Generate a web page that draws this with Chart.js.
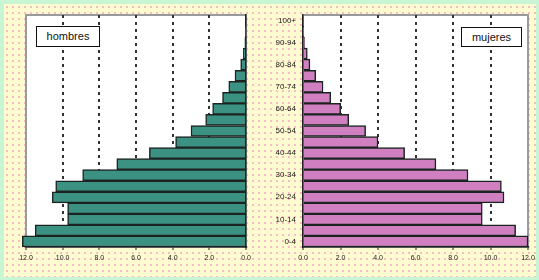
<!DOCTYPE html>
<html><head><meta charset="utf-8">
<script src="https://cdn.jsdelivr.net/npm/chart.js@4/dist/chart.umd.min.js"></script>
<style>
html,body{margin:0;padding:0;}
body{width:539px;height:280px;background:#c8f5d4;position:relative;overflow:hidden;font-family:'Liberation Sans',Arial,sans-serif;}
#panel{position:absolute;left:4px;top:4px;width:532px;height:273px;background-color:#fffbd0;background-image:radial-gradient(circle, rgba(236,150,190,0.6) 0.8px, rgba(255,251,208,0) 1.3px);background-size:6px 6px;}
canvas{position:absolute;top:0;}
#cL{left:0}
#cR{left:270px}
.leg{position:absolute;border:1px solid #111;background:#fff;font-size:11px;color:#111;text-align:center;box-sizing:border-box;}
</style></head>
<body>
<div id="panel"></div>
<canvas id="cL" width="270" height="280"></canvas>
<canvas id="cR" width="269" height="280"></canvas>
<div class="leg" style="left:36px;top:26px;width:64px;height:21px;line-height:19px;">hombres</div>
<div class="leg" style="left:461px;top:27px;width:61px;height:20px;line-height:18px;">mujeres</div>
<script>
const ageGroups = ['0-4','5-9','10-14','15-19','20-24','25-29','30-34','35-39','40-44','45-49','50-54','55-59','60-64','65-69','70-74','75-79','80-84','85-89','90-94','95-99','100+'];
const hombres = [12.2,11.5,9.73,9.73,10.57,10.38,8.91,7.05,5.27,3.84,3.0,2.2,1.82,1.28,0.94,0.6,0.29,0.15,0.06,0.03,0];
const mujeres = [12.0,11.34,9.56,9.56,10.72,10.58,8.8,7.09,5.42,4.0,3.34,2.44,2.01,1.48,1.07,0.68,0.37,0.23,0.08,0.02,0];
const axisMin = 0, axisMax = 12, axisStep = 2;

const plotFrame = {
  id: 'plotFrame',
  beforeDraw(chart) {
    const {ctx, chartArea: a} = chart;
    ctx.save();
    ctx.fillStyle = '#ffffff';
    ctx.fillRect(a.left, a.top, a.right - a.left, a.bottom - a.top);
    ctx.strokeStyle = '#9a9a9a';
    ctx.lineWidth = 2;
    ctx.strokeRect(a.left, a.top, a.right - a.left, a.bottom - a.top);
    ctx.restore();
  }
};

const tickFont = {family: "'Liberation Sans', Arial, sans-serif", size: 7};
const labelFont = {family: "'Liberation Sans', Arial, sans-serif", size: 8};

function xAxis(reverse) {
  return {
    type: 'linear', min: axisMin, max: axisMax, reverse: reverse,
    afterFit(s) { s.height = 33; },
    ticks: {stepSize: axisStep, color: '#1a1a1a', font: tickFont, padding: 4, maxRotation: 0,
      callback: v => Number(v).toFixed(1)},
    grid: {
      color: c => (c.tick && (c.tick.value === axisMin || c.tick.value === axisMax)) ? 'rgba(0,0,0,0)' : '#333',
      lineWidth: 2, tickColor: '#222', tickLength: 3, tickWidth: 1
    },
    border: {display: true, color: '#222', width: 1.5, dash: [3, 4]}
  };
}

function barDataset(data, color) {
  return {data: data, backgroundColor: color, borderColor: '#1c2421', borderWidth: 1.5,
    barPercentage: 1, categoryPercentage: 1, clip: false};
}

new Chart(document.getElementById('cL'), {
  type: 'bar',
  data: {labels: ageGroups, datasets: [barDataset(hombres, '#3c9282')]},
  options: {
    indexAxis: 'y', responsive: false, animation: false, devicePixelRatio: 1,
    layout: {padding: {left: 26, right: 24, top: 15, bottom: 0}},
    plugins: {legend: {display: false}, tooltip: {enabled: false}},
    scales: {
      x: xAxis(true),
      y: {type: 'category', reverse: true, position: 'right',
        afterFit(s) { s.width = 0; },
        ticks: {display: false}, grid: {display: false, drawTicks: false},
        border: {display: true, color: '#222', width: 1.5}}
    }
  },
  plugins: [plotFrame]
});

new Chart(document.getElementById('cR'), {
  type: 'bar',
  data: {labels: ageGroups, datasets: [barDataset(mujeres, '#d080c1')]},
  options: {
    indexAxis: 'y', responsive: false, animation: false, devicePixelRatio: 1,
    layout: {padding: {left: 0, right: 11, top: 15, bottom: 0}},
    plugins: {legend: {display: false}, tooltip: {enabled: false}},
    scales: {
      x: xAxis(false),
      y: {type: 'category', reverse: true, position: 'left',
        afterFit(s) { s.width = 33; },
        ticks: {autoSkip: false, color: '#1a1a1a', font: labelFont, padding: 7,
          callback: (v, i) => i % 2 === 0 ? ageGroups[i] : ''},
        grid: {display: false, drawTicks: false},
        border: {display: true, color: '#222', width: 1.5}}
    }
  },
  plugins: [plotFrame]
});
</script>
</body></html>
